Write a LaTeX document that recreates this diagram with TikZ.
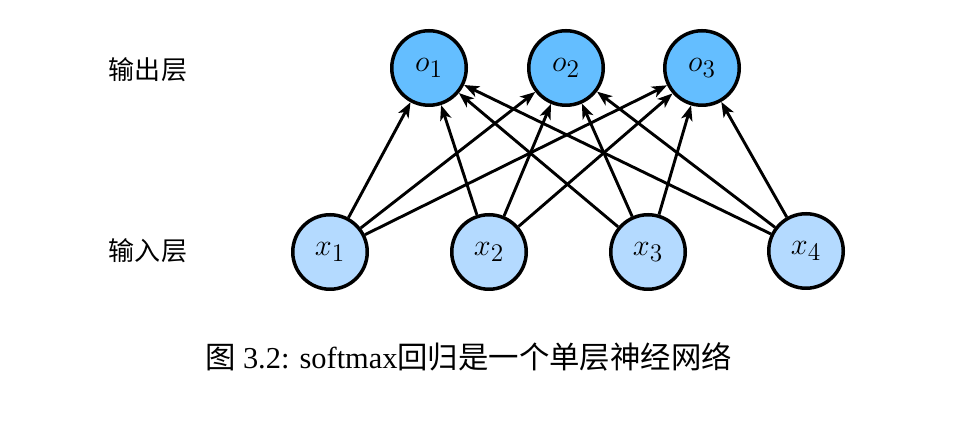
\documentclass[tikz,border=0pt]{standalone}
\usepackage{fontspec}
\setmainfont{Liberation Serif}
\newfontfamily\cjk{Noto Sans CJK SC}
\usetikzlibrary{arrows.meta}
\definecolor{outblue}{RGB}{100,190,255}
\definecolor{inblue}{RGB}{180,218,255}

\begin{document}
\begin{tikzpicture}[
    outunit/.style={circle, draw=black, line width=0.07cm, fill=outblue, minimum size=1.49cm, inner sep=0pt, font=\fontsize{19}{22}\selectfont},
    inunit/.style={circle, draw=black, line width=0.07cm, fill=inblue, minimum size=1.49cm, inner sep=0pt, font=\fontsize{19}{22}\selectfont},
    link/.style={line width=0.058cm, -{Stealth[length=0.3cm, width=0.23cm, inset=0.08cm]}},
    layername/.style={font=\fontsize{14.8}{17}\selectfont\cjk}]
  \useasboundingbox (0,0) rectangle (19.12,8.50);

  \coordinate (O1) at (8.58, 7.14);
  \coordinate (O2) at (11.32, 7.14);
  \coordinate (O3) at (14.04, 7.14);
  \coordinate (X1) at (6.60, 3.46);
  \coordinate (X2) at (9.78, 3.46);
  \coordinate (X3) at (12.96, 3.46);
  \coordinate (X4) at (16.12, 3.48);
  \coordinate (LO) at (2.96, 7.10);
  \coordinate (LI) at (2.96, 3.48);
  \coordinate (CAP) at (9.37, 1.36);

  % units
  \node[outunit] (o1) at (O1) {$o_1$};
  \node[outunit] (o2) at (O2) {$o_2$};
  \node[outunit] (o3) at (O3) {$o_3$};
  \node[inunit] (x1) at (X1) {$x_1$};
  \node[inunit] (x2) at (X2) {$x_2$};
  \node[inunit] (x3) at (X3) {$x_3$};
  \node[inunit] (x4) at (X4) {$x_4$};

  \node[layername] (outname) at (LO) {输出层};
  \node[layername] (inname) at (LI) {输入层};

  % connections
  \draw[link] (x1) -- (o1);
  \draw[link] (x1) -- (o2);
  \draw[link] (x1) -- (o3);
  \draw[link] (x2) -- (o1);
  \draw[link] (x2) -- (o2);
  \draw[link] (x2) -- (o3);
  \draw[link] (x3) -- (o1);
  \draw[link] (x3) -- (o2);
  \draw[link] (x3) -- (o3);
  \draw[link] (x4) -- (o1);
  \draw[link] (x4) -- (o2);
  \draw[link] (x4) -- (o3);

  \node[font=\fontsize{17.3}{20}\selectfont] (caption) at (CAP) {{\cjk 图} 3.2: softmax{\cjk 回归是一个单层神经网络}};
\end{tikzpicture}
\end{document}
